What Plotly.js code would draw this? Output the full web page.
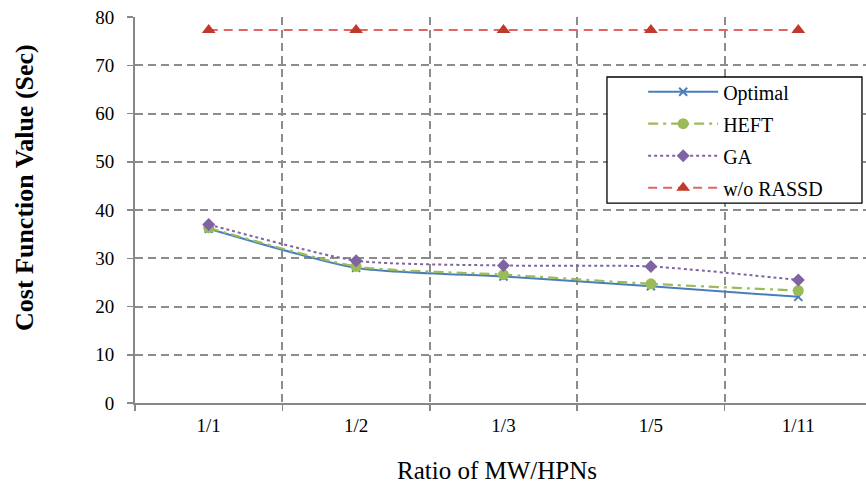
<!DOCTYPE html>
<html>
<head>
<meta charset="utf-8">
<script src="https://cdn.plot.ly/plotly-3.0.1.min.js"></script>
<style>
html, body { margin: 0; padding: 0; overflow: hidden; background: #fff; }
#chart { width: 880px; height: 486px; }
</style>
</head>
<body>
<div id="chart"></div>
<script>
const categories = ["1/1", "1/2", "1/3", "1/5", "1/11"];
const seriesNames = ["Optimal", "HEFT", "GA", "w/o RASSD"];
const optimal = [36.1, 28.0, 26.2, 24.2, 22.0];
const heft = [36.3, 28.3, 26.6, 24.7, 23.3];
const ga = [37.0, 29.5, 28.5, 28.3, 25.5];
const woRassd = [77.3, 77.3, 77.3, 77.3, 77.3];
const yTickVals = [0, 10, 20, 30, 40, 50, 60, 70, 80];

const FONT = "Liberation Serif, Times New Roman, serif";
const GRID = "#8c8c8c";

const traces = [
  {
    x: categories, y: optimal, name: seriesNames[0], legendgroup: "a",
    mode: "lines+markers", type: "scatter",
    line: { color: "#4a7ebb", width: 2, shape: "spline", smoothing: 0.6 },
    marker: { symbol: "x-thin", size: 8, line: { color: "#4a7ebb", width: 2 }, color: "#4a7ebb" }
  },
  {
    x: categories, y: heft, name: seriesNames[1], legendgroup: "b",
    mode: "lines+markers", type: "scatter",
    line: { color: "#9bbb59", width: 2.2, dash: "10px,5px,3px,5px", shape: "spline", smoothing: 0.6 },
    marker: { symbol: "circle", size: 11, color: "#9bbb59" }
  },
  {
    x: categories, y: ga, name: seriesNames[2], legendgroup: "c",
    mode: "lines+markers", type: "scatter",
    line: { color: "#8064a2", width: 2, dash: "dot", shape: "spline", smoothing: 0.6 },
    marker: { symbol: "diamond", size: 10, color: "#8064a2" }
  },
  {
    x: categories, y: woRassd, name: seriesNames[3], legendgroup: "d",
    mode: "lines+markers", type: "scatter",
    line: { color: "#e06666", width: 2, dash: "9px,6px" },
    marker: { symbol: "triangle-up", size: 12, color: "#c0392b" }
  }
];

const layout = {
  width: 880, height: 486,
  margin: { l: 135, r: 8, t: 17, b: 83 },
  paper_bgcolor: "#fff", plot_bgcolor: "#fff",
  font: { family: FONT, color: "#000", size: 19 },
  showlegend: true,
  xaxis: {
    type: "category",
    range: [-0.5, 4.5],
    tickson: "boundaries",
    showgrid: true, gridcolor: GRID, griddash: "8px,5px", gridwidth: 2,
    showline: true, linecolor: "#888", linewidth: 2,
    ticks: "outside", ticklen: 6, tickcolor: "#888", tickwidth: 1.5,
    ticklabelstandoff: 4,
    tickfont: { family: FONT, size: 19, color: "#000" },
    zeroline: false
  },
  yaxis: {
    range: [0, 80],
    tickvals: yTickVals,
    showgrid: true, gridcolor: GRID, griddash: "8px,5px", gridwidth: 2,
    showline: true, linecolor: "#888", linewidth: 2,
    ticks: "outside", ticklen: 6, tickcolor: "#888", tickwidth: 1.5,
    ticklabelstandoff: 9,
    tickfont: { family: FONT, size: 19, color: "#000" },
    zeroline: false
  },
  legend: {
    x: 0.6895, y: 0.857, xanchor: "left", yanchor: "top",
    bgcolor: "rgba(0,0,0,0)", borderwidth: 0,
    traceorder: "grouped", tracegroupgap: 3,
    itemwidth: 70,
    font: { family: FONT, size: 20, color: "#000" }
  },
  shapes: [
    {
      type: "rect", xref: "paper", yref: "paper", layer: "above",
      x0: 0.6404, x1: 0.9864, y0: 0.518, y1: 0.8446,
      fillcolor: "#fff", line: { color: "#000", width: 1.3 }
    }
  ],
  annotations: [
    {
      text: "Cost Function Value (Sec)", xref: "paper", yref: "paper",
      x: 0, y: 0.557, xanchor: "center", yanchor: "middle",
      xshift: -110, textangle: -90, showarrow: false,
      font: { family: FONT, size: 26, color: "#000", weight: "bold" }
    },
    {
      text: "Ratio of MW/HPNs", xref: "paper", yref: "paper",
      x: 0.4915, y: 0, xanchor: "center", yanchor: "middle",
      yshift: -67, showarrow: false,
      font: { family: FONT, size: 25, color: "#000" }
    }
  ]
};

Plotly.newPlot("chart", traces, layout, { displayModeBar: false, staticPlot: true });
</script>
</body>
</html>
